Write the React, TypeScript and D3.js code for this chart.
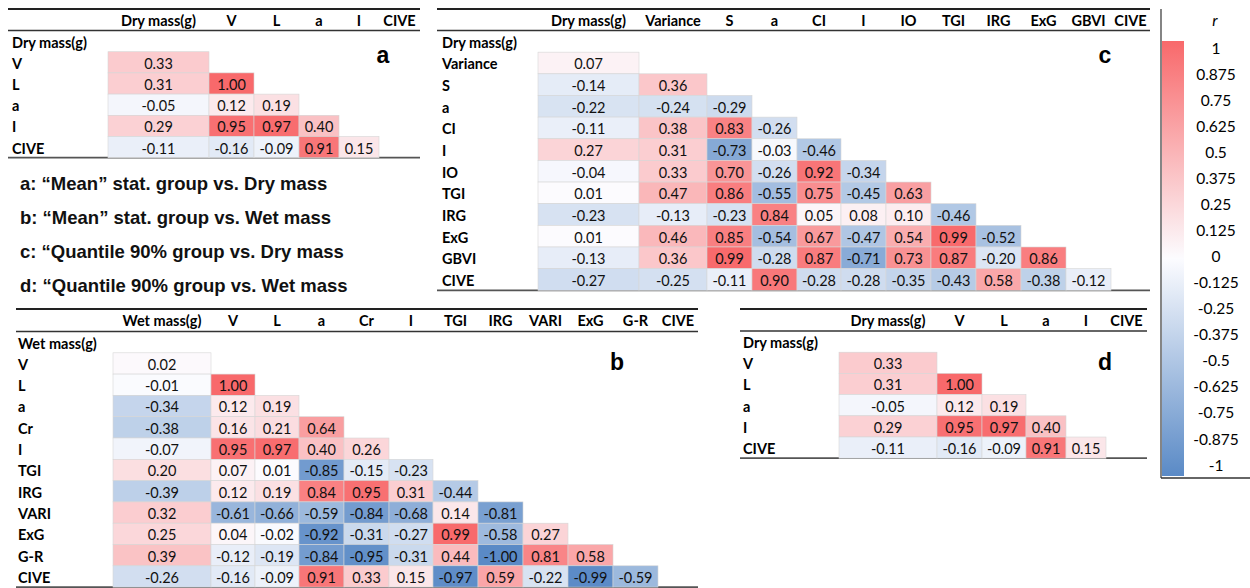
import React from 'react';
import * as d3 from 'd3';

// ---- data ----
const colsA = ['Dry mass(g)', 'V', 'L', 'a', 'I', 'CIVE'];
const valsA = [
  [0.33],
  [0.31, 1.0],
  [-0.05, 0.12, 0.19],
  [0.29, 0.95, 0.97, 0.4],
  [-0.11, -0.16, -0.09, 0.91, 0.15],
];

const colsB = ['Wet mass(g)', 'V', 'L', 'a', 'Cr', 'I', 'TGI', 'IRG', 'VARI', 'ExG', 'G-R', 'CIVE'];
const valsB = [
  [0.02],
  [-0.01, 1.0],
  [-0.34, 0.12, 0.19],
  [-0.38, 0.16, 0.21, 0.64],
  [-0.07, 0.95, 0.97, 0.4, 0.26],
  [0.2, 0.07, 0.01, -0.85, -0.15, -0.23],
  [-0.39, 0.12, 0.19, 0.84, 0.95, 0.31, -0.44],
  [0.32, -0.61, -0.66, -0.59, -0.84, -0.68, 0.14, -0.81],
  [0.25, 0.04, -0.02, -0.92, -0.31, -0.27, 0.99, -0.58, 0.27],
  [0.39, -0.12, -0.19, -0.84, -0.95, -0.31, 0.44, -1.0, 0.81, 0.58],
  [-0.26, -0.16, -0.09, 0.91, 0.33, 0.15, -0.97, 0.59, -0.22, -0.99, -0.59],
];

const colsC = ['Dry mass(g)', 'Variance', 'S', 'a', 'CI', 'I', 'IO', 'TGI', 'IRG', 'ExG', 'GBVI', 'CIVE'];
const valsC = [
  [0.07],
  [-0.14, 0.36],
  [-0.22, -0.24, -0.29],
  [-0.11, 0.38, 0.83, -0.26],
  [0.27, 0.31, -0.73, -0.03, -0.46],
  [-0.04, 0.33, 0.7, -0.26, 0.92, -0.34],
  [0.01, 0.47, 0.86, -0.55, 0.75, -0.45, 0.63],
  [-0.23, -0.13, -0.23, 0.84, 0.05, 0.08, 0.1, -0.46],
  [0.01, 0.46, 0.85, -0.54, 0.67, -0.47, 0.54, 0.99, -0.52],
  [-0.13, 0.36, 0.99, -0.28, 0.87, -0.71, 0.73, 0.87, -0.2, 0.86],
  [-0.27, -0.25, -0.11, 0.9, -0.28, -0.28, -0.35, -0.43, 0.58, -0.38, -0.12],
];

const colsD = colsA;
const valsD = valsA;

const notes = [
  'a: \u201cMean\u201d stat. group vs. Dry mass',
  'b: \u201cMean\u201d stat. group vs. Wet mass',
  'c: \u201cQuantile 90% group vs. Dry mass',
  'd: \u201cQuantile 90% group vs. Wet mass',
];

const legendTicks = [1, 0.875, 0.75, 0.625, 0.5, 0.375, 0.25, 0.125, 0, -0.125, -0.25, -0.375, -0.5, -0.625, -0.75, -0.875, -1];

const color = d3.scaleLinear<string>()
  .domain([-1, 0, 1])
  .range(['#5A8AC6', '#FCFCFF', '#F8696B']);

const FONT = 'Lato, "Open Sans", sans-serif';
const ARIAL = '"Liberation Sans", Arial, sans-serif';

type TableProps = {
  cols: string[];
  vals: number[][];
  widths: number[];
  x0: number;      // left of the first value column
  lineX: number;   // left of the rules
  labelX: number;
  top: number;
  headY: number;
  rowH: number;
  letter: string;
  letterX: number;
  letterY: number;
};

const Table = ({cols, vals, widths, x0, lineX, labelX, top, headY, rowH, letter, letterX, letterY}: TableProps) => {
  const edges = [x0, ...Array.from(d3.cumsum(widths), w => x0 + w)];
  const right = edges[edges.length - 1];
  const y = d3.scaleLinear().domain([0, cols.length]).range([headY, headY + rowH * cols.length]);

  return (
    <g>
      <line x1={lineX} x2={right} y1={top} y2={top} stroke='#222' strokeWidth={2} />
      <line x1={lineX} x2={right} y1={headY} y2={headY} stroke='#333' strokeWidth={1.6} />
      <line x1={lineX} x2={right} y1={y(cols.length)} y2={y(cols.length)} stroke='#555' strokeWidth={1.8} />

      {cols.map((c, i) => (
        <text key={'h' + i} x={(edges[i] + edges[i + 1]) / 2} y={(top + headY) / 2 + 1} dy='0.36em'
          textAnchor='middle' fontFamily={FONT} fontWeight='bold' fontSize={14.5}>
          {c}
        </text>
      ))}

      {cols.map((c, i) => (
        <text key={'r' + i} x={labelX} y={y(i + 0.5) + 1.2} dy='0.36em'
          fontFamily={FONT} fontWeight='bold' fontSize={14.5}>
          {c}
        </text>
      ))}

      {vals.map((row, ri) => row.map((v, ci) => (
        <g key={ri + '-' + ci}>
          <rect x={edges[ci]} y={y(ri + 1)} width={edges[ci + 1] - edges[ci]} height={rowH}
            fill={color(v)} stroke='#d6d6d6' strokeWidth={0.6} />
          <text x={(edges[ci] + edges[ci + 1]) / 2} y={y(ri + 1.5) + 1.2} dy='0.36em' textAnchor='middle'
            fontFamily={FONT} fontSize={14.5} fill='#111'>
            {v.toFixed(2)}
          </text>
        </g>
      )))}

      <text x={letterX} y={letterY} dy='0.36em' textAnchor='middle'
        fontFamily={ARIAL} fontWeight='bold' fontSize={23}>{letter}</text>
    </g>
  );
};

const Legend = () => {
  const ly = d3.scaleLinear().domain([1, -1]).range([47, 464]);
  return (
    <g>
      <defs>
        <linearGradient id='rgrad' x1='0' x2='0' y1='0' y2='1'>
          <stop offset='0%' stopColor={color(1)} />
          <stop offset='50%' stopColor={color(0)} />
          <stop offset='100%' stopColor={color(-1)} />
        </linearGradient>
      </defs>
      <line x1={1161} x2={1161} y1={9} y2={478} stroke='#333' strokeWidth={1.2} />
      <line x1={1161} x2={1250} y1={478} y2={478} stroke='#333' strokeWidth={1.5} />
      <rect x={1162} y={41} width={22} height={435} fill='url(#rgrad)' />
      <text x={1215} y={20} dy='0.36em' textAnchor='middle' fontFamily={FONT}
        fontStyle='italic' fontSize={15.5}>r</text>
      {legendTicks.map(t => (
        <text key={t} x={1216} y={ly(t) + 1} dy='0.36em' textAnchor='middle'
          fontFamily={FONT} fontSize={15.5}>{String(t)}</text>
      ))}
    </g>
  );
};

const App = () => (
  <svg width={1250} height={588} style={{position: 'absolute', left: 0, top: 0, background: '#fff'}}>
    <Table cols={colsA} vals={valsA} widths={[101, 45, 45, 40, 40, 41]} x0={108} lineX={8}
      labelX={12} top={9} headY={30.5} rowH={21.2} letter='a' letterX={383} letterY={55} />
    <Table cols={colsC} vals={valsC} widths={[101, 68, 45, 45, 44, 45, 45, 45, 45, 45, 45, 39]} x0={538}
      lineX={437} labelX={442} top={9} headY={30.5} rowH={21.65} letter='c' letterX={1105} letterY={55} />
    <Table cols={colsB} vals={valsB} widths={[98, 44, 44, 45, 45, 44, 45, 45, 45, 45, 45, 40]} x0={113}
      lineX={16} labelX={18} top={309} headY={331.5} rowH={21.3} letter='b' letterX={617} letterY={362} />
    <Table cols={colsD} vals={valsD} widths={[98, 45, 44, 40, 40, 41]} x0={839} lineX={740}
      labelX={743} top={309} headY={331} rowH={21.2} letter='d' letterX={1105} letterY={362} />

    {notes.map((n, i) => (
      <text key={n} x={20} y={183 + i * 34} dy='0.36em' fontFamily={ARIAL}
        fontWeight='bold' fontSize={18.5} fill='#111'>{n}</text>
    ))}

    <Legend />
  </svg>
);

export default App;
